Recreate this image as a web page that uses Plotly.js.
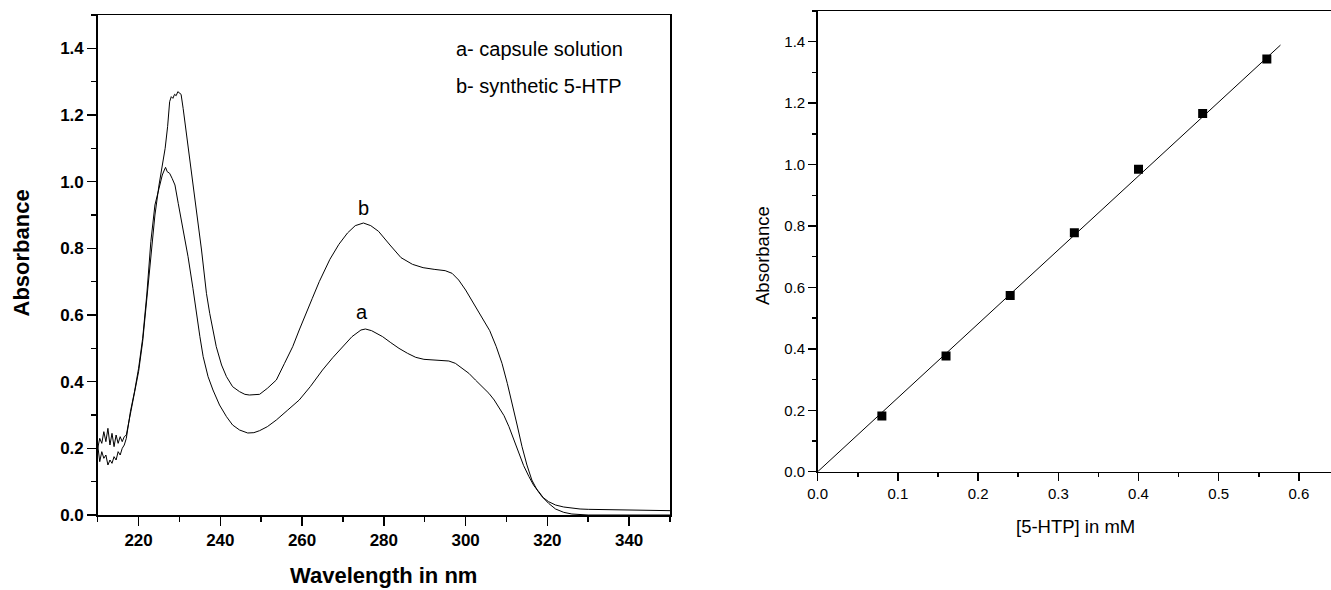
<!DOCTYPE html>
<html>
<head>
<meta charset="utf-8">
<script src="https://cdn.plot.ly/plotly-3.0.1.min.js"></script>
<style>html,body{margin:0;padding:0;background:#fff;}#chart{width:1331px;height:590px;}</style>
</head>
<body>
<div id="chart"></div>
<script>
// ---- Left panel: UV spectra ----
const waveA = [210,210.5,211,211.5,212,212.5,213,213.5,214,214.5,215,215.5,216,216.5,217,
  218,219,220,221,222,223,224,225,225.8,226.3,226.6,227,227.6,228.2,228.9,229.7,230.9,232.1,233.3,234.1,235,235.8,237,238.2,239.8,241.5,243,244.7,246.7,248.2,249.6,251.5,253.7,256.5,259.3,262,265,267.5,269.9,272.2,274.4,275.5,277,279.7,281.7,283.7,285.8,287.8,289.8,291.9,293.9,295.9,297.5,299.2,300.8,302.4,304,305.7,307,308.1,309.4,310.6,311.8,313,314.2,315.5,316.7,317.9,319,320.3,322,324,326,328,330,335,340,345,350];
const absA = [0.21,0.16,0.19,0.17,0.18,0.15,0.165,0.155,0.175,0.165,0.19,0.18,0.2,0.21,0.23,
  0.31,0.37,0.44,0.53,0.66,0.82,0.93,0.98,1.02,1.035,1.043,1.03,1.025,1.01,0.99,0.935,0.855,0.775,0.68,0.605,0.535,0.475,0.415,0.375,0.33,0.295,0.27,0.255,0.246,0.247,0.253,0.265,0.285,0.315,0.345,0.385,0.435,0.472,0.505,0.535,0.555,0.558,0.553,0.535,0.517,0.5,0.485,0.473,0.467,0.465,0.464,0.462,0.455,0.44,0.425,0.405,0.385,0.365,0.345,0.325,0.298,0.265,0.228,0.185,0.148,0.115,0.088,0.07,0.052,0.04,0.03,0.024,0.02,0.018,0.017,0.016,0.015,0.014,0.013];
const waveB = [210,210.5,211,211.5,212,212.5,213,213.5,214,214.5,215,215.5,216,216.5,217,
  218,219,220,221,222,223,224,225,225.8,226.5,227.1,227.6,228,228.4,228.8,229.2,229.6,230,230.4,230.9,231.7,232.3,232.9,234.1,235.4,236.6,237.4,239,240.3,241.5,243,244.7,246,247.1,248.5,249.6,251.5,253.7,255.7,257.7,259.3,260.9,262.5,264.2,266.8,269,271.1,273,275,276.8,278.7,281.5,284.2,287,289.6,292.3,295,296.7,298.3,300,301.6,303.8,305.9,307.5,308.9,310.2,311.4,312.6,313.8,315,316.2,317.5,318.7,320.3,322,324,326,328,330,340,350];
const absB = [0.2,0.23,0.215,0.25,0.22,0.26,0.21,0.245,0.205,0.24,0.215,0.235,0.22,0.235,0.24,
  0.3,0.36,0.43,0.52,0.65,0.79,0.9,0.99,1.045,1.1,1.165,1.24,1.255,1.25,1.262,1.258,1.27,1.265,1.262,1.22,1.145,1.085,1.025,0.925,0.795,0.665,0.605,0.505,0.45,0.415,0.385,0.37,0.362,0.36,0.36,0.362,0.38,0.405,0.455,0.505,0.555,0.605,0.65,0.7,0.767,0.812,0.846,0.868,0.876,0.868,0.851,0.81,0.772,0.752,0.742,0.737,0.733,0.725,0.705,0.675,0.643,0.598,0.553,0.505,0.455,0.395,0.335,0.27,0.205,0.15,0.105,0.075,0.055,0.035,0.018,0.008,0.003,0.001,0,0,0];

// ---- Right panel: calibration ----
const concMM = [0.08,0.16,0.24,0.32,0.40,0.48,0.56];
const absCal = [0.181,0.377,0.574,0.778,0.985,1.166,1.344];
const fitX = [0, 0.577];
const fitY = [0, 1.389];

const legendLines = ["a- capsule solution","b- synthetic 5-HTP"];
const curveLabels = ["a","b"];

const FONT = "Liberation Sans, Arial, Helvetica, sans-serif";
const blk = "#000";

const traces = [
  {x: waveA, y: absA, type:"scatter", mode:"lines", line:{color:blk, width:1}, xaxis:"x", yaxis:"y", name:"a", hoverinfo:"skip"},
  {x: waveB, y: absB, type:"scatter", mode:"lines", line:{color:blk, width:1}, xaxis:"x", yaxis:"y", name:"b", hoverinfo:"skip"},
  {x: fitX, y: fitY, type:"scatter", mode:"lines", line:{color:blk, width:1}, xaxis:"x2", yaxis:"y2", name:"fit", hoverinfo:"skip"},
  {x: concMM, y: absCal, type:"scatter", mode:"markers", marker:{symbol:"square", size:9, color:blk}, xaxis:"x2", yaxis:"y2", name:"data"}
];

const axLeftBase = {
  showline:true, linecolor:blk, linewidth:1.5, mirror:true, showgrid:false, zeroline:false,
  ticks:"outside", ticklen:9, tickwidth:1.5, tickcolor:blk,
  tickfont:{family:FONT, size:17, color:blk, weight:"bold"}
};
const axRightBase = {
  showline:true, linecolor:blk, linewidth:1.5, showgrid:false, zeroline:false,
  ticks:"outside", ticklen:8, tickwidth:1.5, tickcolor:blk,
  tickfont:{family:FONT, size:15, color:blk}
};

const layout = {
  width:1331, height:590,
  margin:{l:0, r:0, t:0, b:0},
  paper_bgcolor:"#fff", plot_bgcolor:"#fff",
  showlegend:false,
  xaxis: Object.assign({}, axLeftBase, {
    domain:[97.7/1331, 670/1331], range:[210,350], tick0:220, dtick:20,
    minor:{dtick:10, tick0:210, ticks:"outside", ticklen:5, tickwidth:1.5, tickcolor:blk},
    anchor:"y"
  }),
  yaxis: Object.assign({}, axLeftBase, {
    domain:[1-515/590, 1-15/590], range:[0,1.5], tick0:0, dtick:0.2, tickformat:".1f",
    minor:{dtick:0.1, ticks:"outside", ticklen:5, tickwidth:1.5, tickcolor:blk},
    anchor:"x"
  }),
  xaxis2: Object.assign({}, axRightBase, {
    domain:[817.7/1331, 1], range:[0,0.64], tick0:0, dtick:0.1, tickformat:".1f", mirror:true,
    minor:{dtick:0.05, ticks:"outside", ticklen:4, tickwidth:1.5, tickcolor:blk},
    anchor:"y2"
  }),
  yaxis2: Object.assign({}, axRightBase, {
    domain:[1-471.7/590, 1-11/590], range:[0,1.5], tick0:0, dtick:0.2, tickformat:".1f",
    minor:{dtick:0.1, ticks:"outside", ticklen:4, tickwidth:1.5, tickcolor:blk},
    anchor:"x2"
  }),
  annotations: [
    {text:legendLines[0], x:297.2, y:1.398, xref:"x", yref:"y", xanchor:"left", yanchor:"middle", showarrow:false, font:{family:FONT, size:20, color:blk}},
    {text:legendLines[1], x:297.2, y:1.287, xref:"x", yref:"y", xanchor:"left", yanchor:"middle", showarrow:false, font:{family:FONT, size:20, color:blk}},
    {text:curveLabels[1], x:275, y:0.92, xref:"x", yref:"y", xanchor:"center", yanchor:"middle", showarrow:false, font:{family:FONT, size:20, color:blk}},
    {text:curveLabels[0], x:274.6, y:0.61, xref:"x", yref:"y", xanchor:"center", yanchor:"middle", showarrow:false, font:{family:FONT, size:20, color:blk}},
    {text:"Wavelength in nm", x:383.9/1331, y:1-575/590, xref:"paper", yref:"paper", xanchor:"center", yanchor:"middle", showarrow:false, font:{family:FONT, size:22, color:blk, weight:"bold"}},
    {text:"Absorbance", x:21/1331, y:1-253.5/590, xref:"paper", yref:"paper", xanchor:"center", yanchor:"middle", textangle:-90, showarrow:false, font:{family:FONT, size:22, color:blk, weight:"bold"}},
    {text:"[5-HTP] in mM", x:1075/1331, y:1-526.7/590, xref:"paper", yref:"paper", xanchor:"center", yanchor:"middle", showarrow:false, font:{family:FONT, size:18.5, color:blk}},
    {text:"Absorbance", x:762/1331, y:1-256/590, xref:"paper", yref:"paper", xanchor:"center", yanchor:"middle", textangle:-90, showarrow:false, font:{family:FONT, size:18.5, color:blk}}
  ]
};

Plotly.newPlot("chart", traces, layout, {staticPlot:true, displayModeBar:false});
</script>
</body>
</html>
